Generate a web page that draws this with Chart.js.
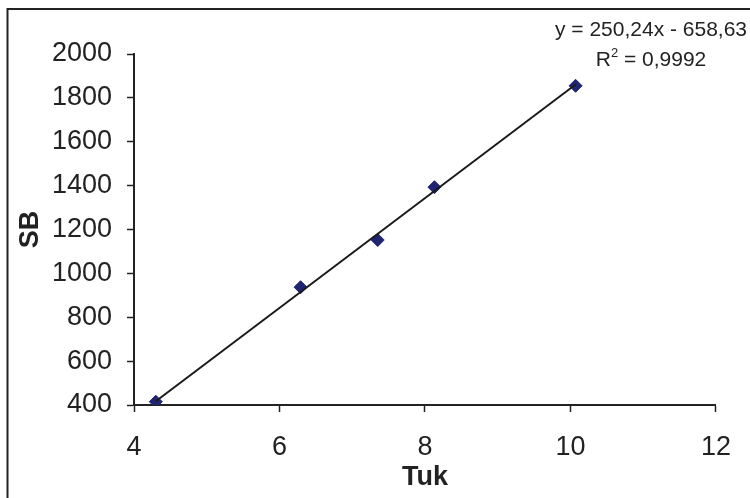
<!DOCTYPE html>
<html>
<head>
<meta charset="utf-8">
<script src="https://cdn.jsdelivr.net/npm/chart.js@4/dist/chart.umd.min.js"></script>
<style>
  html, body { margin: 0; padding: 0; background: #fff; }
  #wrap { width: 750px; height: 498px; }
</style>
</head>
<body>
<div id="wrap"><canvas id="chart-sb" width="750" height="498"></canvas></div>
<script>
// =====================================================
//  SB vs Tuk — dispersión con línea de tendencia
// =====================================================

const tukValues = [4.30, 6.29, 7.35, 8.13, 10.07];
const sbValues  = [415, 937, 1152, 1393, 1855];

const trendSlope = 250.24, trendIntercept = -658.63;
const eqLine1 = 'y = 250,24x - 658,63';
const eqR2    = '0,9992';

const xTicks = [4, 6, 8, 10, 12];
const yTicks = [400, 600, 800, 1000, 1200, 1400, 1600, 1800, 2000];

const INK = '#222';
const FONT = "'Liberation Sans', Arial, sans-serif";

// recta de tendencia entre el menor y el mayor valor de x
const xMin = Math.min(...tukValues), xMax = Math.max(...tukValues);
const trendPts = [xMin, xMax].map(x => ({ x, y: trendSlope * x + trendIntercept }));

const framePlugin = {
  id: 'frame',
  beforeDraw(chart) {
    const c = chart.ctx;
    c.save();
    c.strokeStyle = INK;
    c.lineWidth = 2;
    c.strokeRect(7.5, 9, 800, 600);
    c.restore();
  },
  afterDraw(chart) {
    const c = chart.ctx;
    c.save();
    c.fillStyle = INK;
    c.textBaseline = 'middle';
    c.font = '21px ' + FONT;
    c.textAlign = 'center';
    c.fillText(eqLine1, 651, 30);
    // R² = ...
    const rest = ' = ' + eqR2;
    const wR = c.measureText('R').width, wRest = c.measureText(rest).width;
    c.font = '13px ' + FONT;
    const wSup = c.measureText('2').width;
    let x0 = 651 - (wR + wSup + wRest) / 2;
    c.textAlign = 'left';
    c.font = '21px ' + FONT;
    c.fillText('R', x0, 60);
    c.font = '13px ' + FONT;
    c.fillText('2', x0 + wR, 53);
    c.font = '21px ' + FONT;
    c.fillText(rest, x0 + wR + wSup, 60);
    c.restore();
  }
};

new Chart(document.getElementById('chart-sb'), {
  type: 'scatter',
  data: {
    datasets: [
      {
        label: 'SB',
        data: tukValues.map((x, i) => ({ x, y: sbValues[i] })),
        pointStyle: 'rectRot', pointRadius: 6.5, pointHoverRadius: 6.5,
        backgroundColor: '#1f2473', borderColor: '#1f2473', borderWidth: 1,
        order: 1
      },
      {
        label: 'Tendencia',
        data: trendPts,
        showLine: true, pointRadius: 0, borderColor: '#1a1a1a', borderWidth: 2,
        order: 0
      }
    ]
  },
  options: {
    responsive: false, animation: false,
    layout: { padding: { top: 54, right: 32, bottom: 0, left: 0 } },
    plugins: { legend: { display: false }, tooltip: { enabled: false } },
    scales: {
      x: {
        type: 'linear', min: 4, max: 12,
        afterFit: s => { s.height = 93; },
        afterBuildTicks: s => { s.ticks = xTicks.map(v => ({ value: v })); },
        ticks: { color: INK, padding: 19, font: { family: FONT, size: 27 }, callback: v => String(v) },
        grid: { drawOnChartArea: false, drawTicks: true, tickLength: 7, tickColor: INK, tickWidth: 1.5 },
        border: { display: true, color: INK, width: 2 },
        title: { display: true, text: 'Tuk', color: INK, padding: { top: 0, bottom: 4 },
                 font: { family: FONT, size: 27, weight: 'bold' } }
      },
      y: {
        type: 'linear', min: 400, max: 2000,
        afterFit: s => { s.width = 134; },
        afterBuildTicks: s => { s.ticks = yTicks.map(v => ({ value: v })); },
        ticks: { color: INK, padding: 15, font: { family: FONT, size: 27 }, callback: v => String(v) },
        grid: { drawOnChartArea: false, drawTicks: true, tickLength: 7, tickColor: INK, tickWidth: 1.5 },
        border: { display: true, color: INK, width: 2 },
        title: { display: true, text: 'SB', color: INK, padding: { top: 14, bottom: 0 },
                 font: { family: FONT, size: 27, weight: 'bold' } }
      }
    }
  },
  plugins: [framePlugin]
});
</script>
</body>
</html>
